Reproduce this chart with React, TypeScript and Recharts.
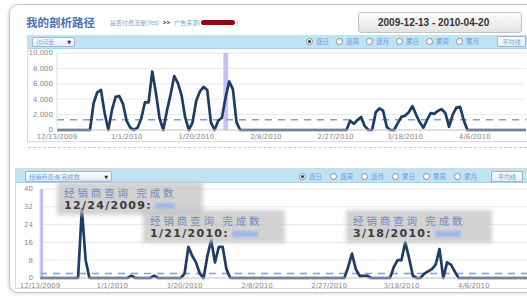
import React from 'react';
import { LineChart, Line, XAxis, YAxis, CartesianGrid, ReferenceLine, ReferenceArea } from 'recharts';

// ---------- data ----------
const tickDays = [0, 19, 38, 57, 76, 95, 114];
const tickLabels = ['12/13/2009', '1/1/2010', '1/20/2010', '2/8/2010', '2/27/2010', '3/18/2010', '4/6/2010'];
const topYTicks = [0, 2000, 4000, 6000, 8000, 10000];
const bottomYTicks = [0, 8, 16, 24, 32, 40];

// 129 daily values, 12/13/2009 .. 4/20/2010
const topValues = [
  0, 0, 0, 0, 0, 0, 0, 0, 0, 0,
  3500, 4900, 5200, 2200, 0, 2600, 4300, 4400, 3400, 1200,
  300, 0, 300, 1500, 3600, 3600, 7600, 4800, 1500, 0,
  2500, 4600, 7000, 6100, 4500, 1600, 0, 1000, 3800, 5000,
  5600, 5200, 1000, 0, 1200, 1600, 4200, 6300, 5300, 1000,
  0, 0, 0, 0, 0, 0, 0, 0, 0, 0,
  0, 0, 0, 0, 0, 0, 0, 0, 0, 0,
  0, 0, 0, 0, 0, 0, 0, 0, 0, 0,
  1200, 800, 1300, 1700, 500, 0, 0, 2300, 2800, 2500,
  400, 0, 0, 900, 1700, 1850, 2300, 3100, 2000, 1000,
  300, 1300, 2200, 2100, 2500, 2700, 2200, 400, 2000, 2900,
  3000, 1300, 0, 0, 0, 0, 0, 0, 0, 0,
  0, 0, 0, 0, 0, 0, 0, 0, 0,
];

const bottomValues = [
  0, 0, 0, 0, 0, 0, 0, 0, 0, 0,
  0, 31, 8, 0, 0, 0, 0, 0, 0, 0,
  0, 0, 0, 0, 1, 0, 0, 0, 0, 0,
  1, 0, 0, 0, 0, 0, 0, 0, 2, 14,
  10, 7, 2, 0, 10, 17, 7, 14, 14, 4,
  0, 0, 0, 0, 0, 0, 0, 0, 0, 0,
  0, 0, 0, 0, 0, 0, 0, 0, 0, 0,
  0, 0, 0, 0, 0, 0, 0, 0, 0, 0,
  0, 5, 11, 4, 1, 1, 1, 0, 0, 0,
  0, 0, 0, 5, 8, 8, 16, 9, 1, 0,
  0, 2, 3, 4, 6, 13, 0, 7, 6, 3,
  0, 0, 0, 0, 0, 0, 0, 0, 0, 0,
  0, 0, 0, 0, 0, 0, 0, 0, 0,
];

const topHighlight = [45.4, 46.7];
const bottomHighlight = [0, 0.8];

const radioLabels = ['逐日', '逐周', '逐月', '累日', '累周', '累月'];
const annotations = [
  { title: '经销商查询 完成数', date: '12/24/2009:' },
  { title: '经销商查询 完成数', date: '1/21/2010:' },
  { title: '经销商查询 完成数', date: '3/18/2010:' },
];

const topData = topValues.map((v, i) => ({ day: i, v }));
const bottomData = bottomValues.map((v, i) => ({ day: i, v }));
const mean = (a: number[]) => a.reduce((s, x) => s + x, 0) / a.length;
const topAvg = mean(topValues);
const bottomAvg = mean(bottomValues);

// ---------- styles ----------
const LINE = '#1e3c68';
const AVG = '#7f9fd6';
const tickStyle = { fontSize: 7, fill: '#8a8a8a', fontFamily: 'DejaVu Sans' };
const fmtDate = (d: number) => tickLabels[tickDays.indexOf(d)] ?? '';

const abs = (l: number, t: number, w: number, h: number, extra: React.CSSProperties = {}): React.CSSProperties => ({
  position: 'absolute', left: l, top: t, width: w, height: h, boxSizing: 'border-box', ...extra,
});

const RadioRow = ({ x, y, step, btnX, btnW }: { x: number; y: number; step: number; btnX: number; btnW: number }) => (
  <>
    {radioLabels.map((lab, i) => (
      <div key={lab} style={{ position: 'absolute', left: x + i * step, top: y, display: 'flex', alignItems: 'center', height: 9 }}>
        <span style={{ width: 7, height: 7, borderRadius: '50%', border: '1px solid #8c8c8c', background: '#fff', boxSizing: 'border-box', display: 'inline-flex', alignItems: 'center', justifyContent: 'center' }}>
          {i === 0 && <span style={{ width: 3, height: 3, borderRadius: '50%', background: '#333' }} />}
        </span>
        <span style={{ fontSize: 6.5, color: '#6a9be0', marginLeft: 3, fontFamily: 'Noto Sans CJK SC', lineHeight: '9px' }}>{lab}</span>
      </div>
    ))}
    <div style={abs(btnX, y - 1, btnW, 11, { border: '1px solid #9fb3c6', background: 'linear-gradient(#fdfdfd,#e6eef4)', fontSize: 6, color: '#6a9be0', textAlign: 'center', lineHeight: '9px', fontFamily: 'Noto Sans CJK SC', borderRadius: 1 })}>平均线</div>
  </>
);

const Annotation = ({ x, y, w, title, date, blobW }: { x: number; y: number; w: number; title: string; date: string; blobW: number }) => (
  <div style={abs(x, y, w, 27, { background: 'rgba(192,192,192,0.72)', boxShadow: '0 0 4px 3px rgba(192,192,192,0.72)', padding: '0 4px' })}>
    <div style={{ fontSize: 10.5, letterSpacing: 2.9, color: '#7489bb', fontFamily: 'Noto Sans CJK SC', lineHeight: '15px', height: 15, whiteSpace: 'nowrap' }}>{title}</div>
    <div style={{ display: 'flex', alignItems: 'center', height: 12 }}>
      <span style={{ fontSize: 11, letterSpacing: 1.3, fontWeight: 700, color: '#3a3a3a', fontFamily: 'DejaVu Sans', lineHeight: '12px', whiteSpace: 'nowrap' }}>{date}</span>
      <span style={{ display: 'inline-block', width: blobW, height: 6, marginLeft: 3, background: '#9fb8ec', filter: 'blur(1.2px)' }} />
    </div>
  </div>
);

export default function App() {
  return (
    <div style={{ position: 'absolute', left: 0, top: 0, width: 527, height: 296, overflow: 'hidden', background: '#fff', fontFamily: 'DejaVu Sans' }}>
      {/* card */}
      <div style={abs(9, 4, 545, 289, { border: '1px solid #c6c6c6', borderRadius: 9, boxShadow: '-1px 1px 3px rgba(0,0,0,0.15)' })} />

      {/* title row */}
      <div style={{ position: 'absolute', left: 26, top: 14, fontSize: 11.5, fontWeight: 700, color: '#4274b9', fontFamily: 'Noto Sans CJK SC', lineHeight: '16px', whiteSpace: 'nowrap' }}>我的剖析路径</div>
      <div style={{ position: 'absolute', left: 110, top: 18, fontSize: 6, color: '#78a3dc', fontFamily: 'Noto Sans CJK SC', lineHeight: '9px', whiteSpace: 'nowrap', display: 'flex', alignItems: 'center' }}>
        <span>是否付费流量(Yes)</span>
        <span style={{ color: '#333', fontWeight: 700, margin: '0 4px' }}>&gt;&gt;</span>
        <span>广告来源(</span>
        <span style={{ display: 'inline-block', width: 34, height: 5, background: '#8e0a12', borderRadius: 3, margin: '0 1px' }} />
        <span>)</span>
      </div>
      <div style={abs(358, 12, 164, 21, { border: '1px solid #c4c4c4', borderRadius: 3, background: 'linear-gradient(#fbfbfb,#e4e4e4)', fontSize: 10, fontWeight: 700, color: '#333', fontFamily: 'Liberation Sans', lineHeight: '19px', paddingLeft: 19, whiteSpace: 'nowrap' })}>2009-12-13 - 2010-04-20</div>

      {/* top panel */}
      <div style={abs(27, 35, 510, 107, { border: '1px solid #d9d9d9' })} />
      <div style={abs(28, 35, 499, 14, { background: '#c0e3f4', borderBottom: '1px solid #a6d2ea' })} />
      <div style={abs(32, 37, 43, 10, { border: '1px solid #9fb6ca', borderRadius: 2, background: 'linear-gradient(#fdfdfd,#e2edf4)', display: 'flex', alignItems: 'center', justifyContent: 'space-between', padding: '0 3px' })}>
        <span style={{ fontSize: 6, color: '#79aee6', fontFamily: 'Noto Sans CJK SC', lineHeight: '8px' }}>访问量</span>
        <span style={{ fontSize: 5, color: '#333' }}>▼</span>
      </div>
      <RadioRow x={306} y={37} step={30} btnX={497} btnW={29} />

      <div style={{ position: 'absolute', left: 0, top: 45 }}>
        <LineChart width={527} height={100} data={topData} margin={{ top: 8, right: 1, bottom: 0, left: 0 }}>
          <CartesianGrid vertical={false} stroke="#e9e9e9" />
          <ReferenceArea x1={topHighlight[0]} x2={topHighlight[1]} y1={0} y2={10000} fill="#b9b2f4" fillOpacity={0.8} stroke="none" />
          <XAxis type="number" dataKey="day" domain={[0, 128]} ticks={tickDays} interval={0} tickFormatter={fmtDate}
            tick={tickStyle} tickLine={false} tickSize={4} tickMargin={0} height={15} axisLine={{ stroke: '#c9c9c9' }} />
          <YAxis domain={[0, 10000]} ticks={topYTicks} interval={0} tickFormatter={(v: number) => v.toLocaleString('en-US')}
            tick={tickStyle} tickLine={false} tickSize={2} tickMargin={2} width={57} axisLine={{ stroke: '#dedede' }} />
          <ReferenceLine y={topAvg} stroke={AVG} strokeDasharray="7 6" strokeWidth={1.5} />
          <Line type="linear" dataKey="v" stroke={LINE} strokeWidth={2.7} dot={false} isAnimationActive={false} strokeLinejoin="round" />
        </LineChart>
      </div>

      {/* separator */}
      <div style={abs(28, 147, 499, 1, { borderTop: '1px dashed #cbcbcb' })} />

      {/* bottom panel */}
      <div style={abs(15, 168, 520, 121, { border: '1px solid #d9d9d9' })} />
      <div style={abs(16, 169, 511, 14, { background: '#c0e3f4', borderBottom: '1px solid #a6d2ea' })} />
      <div style={abs(25, 171, 87, 11, { border: '1px solid #9fb6ca', borderRadius: 2, background: 'linear-gradient(#fdfdfd,#e2edf4)', display: 'flex', alignItems: 'center', justifyContent: 'space-between', padding: '0 3px' })}>
        <span style={{ fontSize: 6.2, color: '#6fa3e0', fontFamily: 'Noto Sans CJK SC', lineHeight: '8px', whiteSpace: 'nowrap' }}>经销商查询 完成数</span>
        <span style={{ fontSize: 5, color: '#333' }}>▼</span>
      </div>
      <RadioRow x={299} y={172} step={31} btnX={491} btnW={32} />

      <div style={{ position: 'absolute', left: 0, top: 183 }}>
        <LineChart width={527} height={113} data={bottomData} margin={{ top: 6, right: 0, bottom: 0, left: 0 }}>
          <CartesianGrid vertical={false} stroke="#e9e9e9" />
          <ReferenceArea x1={bottomHighlight[0]} x2={bottomHighlight[1]} y1={0} y2={40} fill="#b9b2f4" fillOpacity={0.9} stroke="none" />
          <XAxis type="number" dataKey="day" domain={[0, 128]} ticks={tickDays} interval={0} tickFormatter={fmtDate}
            tick={tickStyle} tickLine={false} tickSize={5} tickMargin={0} height={18} axisLine={{ stroke: '#c9c9c9' }} />
          <YAxis domain={[0, 40]} ticks={bottomYTicks} interval={0}
            tick={tickStyle} tickLine={false} tickSize={5} tickMargin={2} width={40} axisLine={{ stroke: '#dedede' }} />
          <ReferenceLine y={bottomAvg} stroke={AVG} strokeDasharray="7 6" strokeWidth={1.5} />
          <Line type="linear" dataKey="v" stroke={LINE} strokeWidth={2.7} dot={false} isAnimationActive={false} strokeLinejoin="round" />
        </LineChart>
      </div>

      {/* sticky tooltips */}
      <Annotation x={60} y={185} w={140} title={annotations[0].title} date={annotations[0].date} blobW={20} />
      <Annotation x={146} y={213} w={136} title={annotations[1].title} date={annotations[1].date} blobW={26} />
      <Annotation x={349} y={213} w={140} title={annotations[2].title} date={annotations[2].date} blobW={26} />
    </div>
  );
}
